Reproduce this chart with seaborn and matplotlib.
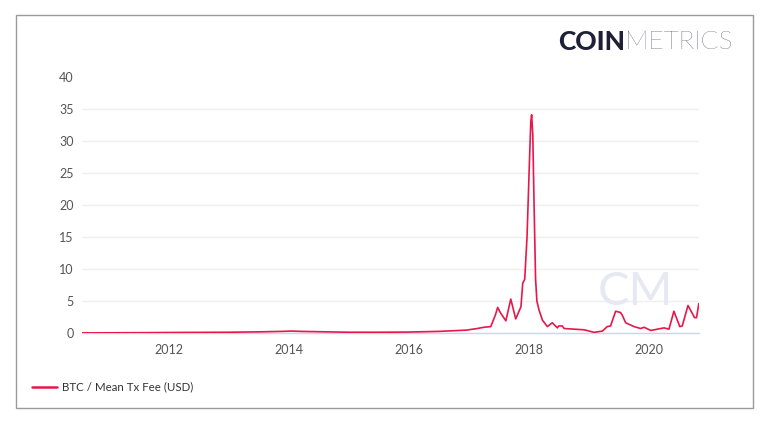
import matplotlib
matplotlib.use("Agg")
import matplotlib.pyplot as plt
import matplotlib.dates as mdates
from matplotlib.patches import Rectangle
from matplotlib.lines import Line2D
import pandas as pd
import seaborn as sns

dates = [
    "2010-07-18", "2011-01-01", "2011-07-01", "2012-01-01", "2012-07-01",
    "2013-01-01", "2013-07-01", "2013-11-15", "2014-01-15", "2014-03-15",
    "2014-07-01", "2015-01-01", "2015-07-01", "2016-01-01", "2016-07-01",
    "2016-12-15", "2017-02-20", "2017-04-02", "2017-05-13", "2017-06-10",
    "2017-06-24", "2017-07-10", "2017-08-13", "2017-09-12", "2017-10-12",
    "2017-11-13", "2017-11-24", "2017-12-06", "2017-12-20", "2018-01-04",
    "2018-01-12", "2018-01-17", "2018-01-24", "2018-02-01", "2018-02-10",
    "2018-02-18", "2018-03-03", "2018-03-24", "2018-04-23", "2018-05-23",
    "2018-06-23", "2018-07-01", "2018-07-23", "2018-08-03", "2018-10-03",
    "2018-12-03", "2019-02-02", "2019-03-24", "2019-04-23", "2019-05-13",
    "2019-06-13", "2019-07-13", "2019-07-23", "2019-08-13", "2019-10-03",
    "2019-11-13", "2019-12-03", "2020-01-13", "2020-02-23", "2020-04-03",
    "2020-05-03", "2020-06-02", "2020-07-08", "2020-07-23", "2020-08-27",
    "2020-10-06", "2020-10-18", "2020-11-01",
]
fees = [
    0.02, 0.03, 0.05, 0.08, 0.10,
    0.12, 0.18, 0.25, 0.30, 0.25,
    0.20, 0.12, 0.12, 0.15, 0.25,
    0.45, 0.70, 0.90, 1.00, 2.80,
    4.00, 3.20, 1.90, 5.30, 2.20,
    4.10, 7.80, 8.40, 15.0, 27.0,
    33.0, 34.1, 31.0, 20.0, 8.5,
    5.0, 3.6, 2.0, 1.0, 1.6,
    0.8, 1.1, 1.1, 0.7, 0.6,
    0.5, 0.1, 0.3, 1.0, 1.1,
    3.4, 3.2, 2.8, 1.6, 1.0,
    0.7, 0.9, 0.4, 0.6, 0.8,
    0.6, 3.4, 1.0, 1.1, 4.3,
    2.4, 2.4, 4.6,
]
y_ticks = [0, 5, 10, 15, 20, 25, 30, 35, 40]
series_label = "BTC / Mean Tx Fee (USD)"

df = pd.DataFrame({"date": pd.to_datetime(dates), "fee": fees})

sns.set_theme(style="white")
plt.rcParams["font.family"] = ["Lato", "DejaVu Sans"]

W, H = 768, 426
fig = plt.figure(figsize=(W / 100, H / 100), dpi=100)
fig.patch.set_facecolor("white")

# outer frame
fig.add_artist(Rectangle((16 / W, (H - 408) / H), (753 - 16) / W, (408 - 15) / H,
                         transform=fig.transFigure, fill=False,
                         edgecolor="#9a9a9a", linewidth=1.0))

# watermark (behind the axes content)
fig.text(636 / W, (H - 292) / H, "CM", fontsize=34, color="#e6e9f2",
         ha="center", va="center", fontweight="normal", zorder=0)

ax = fig.add_axes([82 / W, (H - 333) / H, (699 - 82) / W, (333 - 77) / H])
ax.patch.set_alpha(0)

line_color = "#e8174b"
sns.lineplot(data=df, x="date", y="fee", ax=ax, color=line_color, linewidth=1.2)

ax.set_xlim(pd.Timestamp("2010-07-18"), pd.Timestamp("2020-11-02"))
ax.set_ylim(0, 40)
ax.set_yticks(y_ticks)
ax.yaxis.grid(True, color="#efefef", linewidth=1.0)
ax.set_axisbelow(True)
ax.xaxis.set_major_locator(mdates.YearLocator(2))
ax.xaxis.set_major_formatter(mdates.DateFormatter("%Y"))
ax.tick_params(axis="both", length=0, labelsize=9, colors="#555555")
ax.tick_params(axis="y", pad=6)
ax.tick_params(axis="x", pad=8)
ax.set_xlabel("")
ax.set_ylabel("")
for s in ["top", "right", "left"]:
    ax.spines[s].set_visible(False)
ax.spines["bottom"].set_color("#ccd6eb")
ax.spines["bottom"].set_linewidth(1.0)
ax.spines["bottom"].set_zorder(0)
gl = ax.get_ygridlines()
gl[-1].set_visible(False)
ax.legend_ = None

# logo
t1 = fig.text(558 / W, (H - 42) / H, "COIN", fontsize=19, color="#1e2133",
              fontweight="black", ha="left", va="center")
fig.canvas.draw()
bb = t1.get_window_extent()
fig.text(bb.x1 / W, (H - 42) / H, "METRICS", fontsize=19, color="#1e2133",
         fontweight="light", ha="left", va="center")

# legend
fig.add_artist(Line2D([32 / W, 57 / W], [(H - 387) / H] * 2, transform=fig.transFigure,
                      color=line_color, linewidth=1.8))
fig.text(62 / W, (H - 387) / H, series_label, fontsize=8.3, color="#333333",
         ha="left", va="center")

fig.savefig("out.png", dpi=100)
